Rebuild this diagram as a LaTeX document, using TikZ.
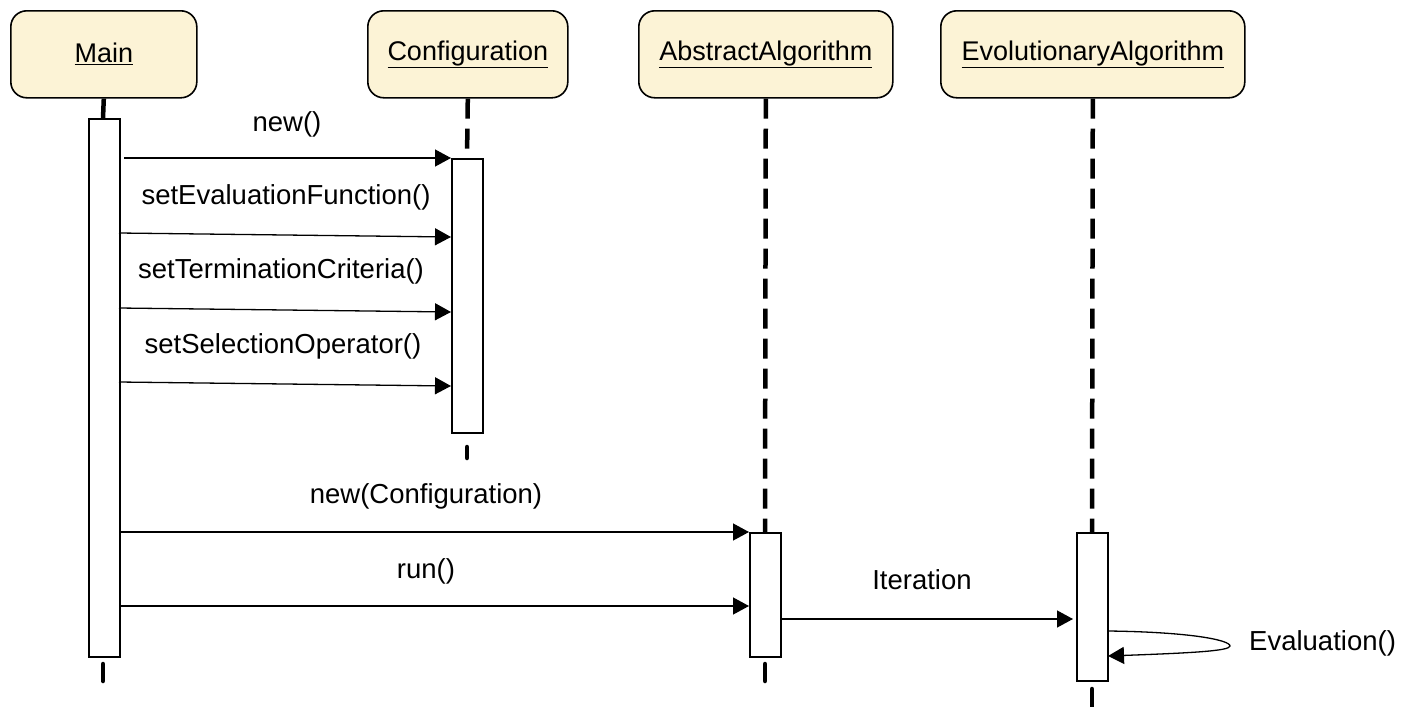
\documentclass[tikz,border=0pt]{standalone}
\usepackage{fontspec}
\setmainfont{Liberation Sans}
\usetikzlibrary{arrows.meta}
\definecolor{hdr}{RGB}{252,243,214}
\begin{document}
\begin{tikzpicture}[x=1pt,y=-1pt,
 hdrbox/.style={draw, line width=1.6pt, rounded corners=16pt, fill=hdr, minimum height=87pt, anchor=north west, inner sep=0pt, font=\fontsize{27}{31}\selectfont},
 actbar/.style={draw, line width=1.5pt, fill=white, anchor=north west, inner sep=0pt, minimum width=31pt},
 life/.style={line width=4.5pt, dash pattern=on 20pt off 10pt},
 lifeend/.style={line width=4.5pt, line cap=round},
 msg/.style={line width=1.3pt, -{Triangle[length=16pt,width=17pt]}},
 lbl/.style={font=\fontsize{27.5}{31}\selectfont, inner sep=0pt},
]
\useasboundingbox (0,0) rectangle (1401,707);

% headers
\node[hdrbox, minimum width=186pt] (hMain) at (10,10) {\underline{Main}};
\node[hdrbox, minimum width=200pt] (hCfg) at (367,10) {\underline{Configuration}};
\node[hdrbox, minimum width=254pt] (hAbs) at (638,10) {\underline{AbstractAlgorithm}};
\node[hdrbox, minimum width=304pt] (hEvo) at (940,10) {\underline{EvolutionaryAlgorithm}};

% end points of lifelines
\coordinate (mainTop) at (103,118);
\coordinate (mainB1) at (103,664);
\coordinate (mainB2) at (103,681);
\coordinate (cfgTop) at (467,158);
\coordinate (cfgB1) at (467,447);
\coordinate (cfgB2) at (467,458);
\coordinate (absTop) at (765,532);
\coordinate (absB1) at (765,664);
\coordinate (absB2) at (765,681);
\coordinate (evoTop) at (1092,532);
\coordinate (evoB1) at (1092,689);
\coordinate (evoB2) at (1092,707);

% lifelines
\draw[life] (hMain.south) -- (mainTop);
\draw[life] (hCfg.south) -- (cfgTop);
\draw[life] (hAbs.south) -- (absTop);
\draw[life] (hEvo.south) -- (evoTop);
\draw[lifeend] (mainB1) -- (mainB2);
\draw[lifeend] (cfgB1) -- (cfgB2);
\draw[lifeend] (absB1) -- (absB2);
\draw[lifeend] (evoB1) -- (evoB2);

% activation bars
\node[actbar, minimum height=538pt] (aMain) at (88,118) {};
\node[actbar, minimum height=274pt] (aCfg) at (451,158) {};
\node[actbar, minimum height=124pt] (aAbs) at (749,532) {};
\node[actbar, minimum height=148pt] (aEvo) at (1076,532) {};

% message end points
\coordinate (s1) at (124,158);  \coordinate (e1) at (451,158);
\coordinate (s2) at (119,233);  \coordinate (e2) at (451,237);
\coordinate (s3) at (119,308);  \coordinate (e3) at (451,312);
\coordinate (s4) at (119,382);  \coordinate (e4) at (451,386);
\coordinate (s5) at (119,532);  \coordinate (e5) at (749,532);
\coordinate (s6) at (119,606);  \coordinate (e6) at (749,606);
\coordinate (s7) at (781,619);  \coordinate (e7) at (1073,619);
\coordinate (s8) at (1108,631); \coordinate (tip8) at (1230,646); \coordinate (e8) at (1108,656);

\draw[msg] (s1) -- (e1);
\draw[msg] (s2) -- (e2);
\draw[msg] (s3) -- (e3);
\draw[msg] (s4) -- (e4);
\draw[msg] (s5) -- (e5);
\draw[msg] (s6) -- (e6);
\draw[msg] (s7) -- (e7);
\draw[msg] (s8) .. controls (1190,632) and (1230,640) .. (tip8)
               .. controls (1230,651) and (1190,653) .. (e8);

% labels
\node[lbl] (l1) at (287,124) {new()};
\node[lbl] (l2) at (286,197) {setEvaluationFunction()};
\node[lbl] (l3) at (281,271) {setTerminationCriteria()};
\node[lbl] (l4) at (283,346) {setSelectionOperator()};
\node[lbl] (l5) at (426,496) {new(Configuration)};
\node[lbl] (l6) at (426,571) {run()};
\node[lbl] (l7) at (922,580) {Iteration};
\node[lbl, anchor=west] (l8) at (1249,643) {Evaluation()};
\end{tikzpicture}
\end{document}
